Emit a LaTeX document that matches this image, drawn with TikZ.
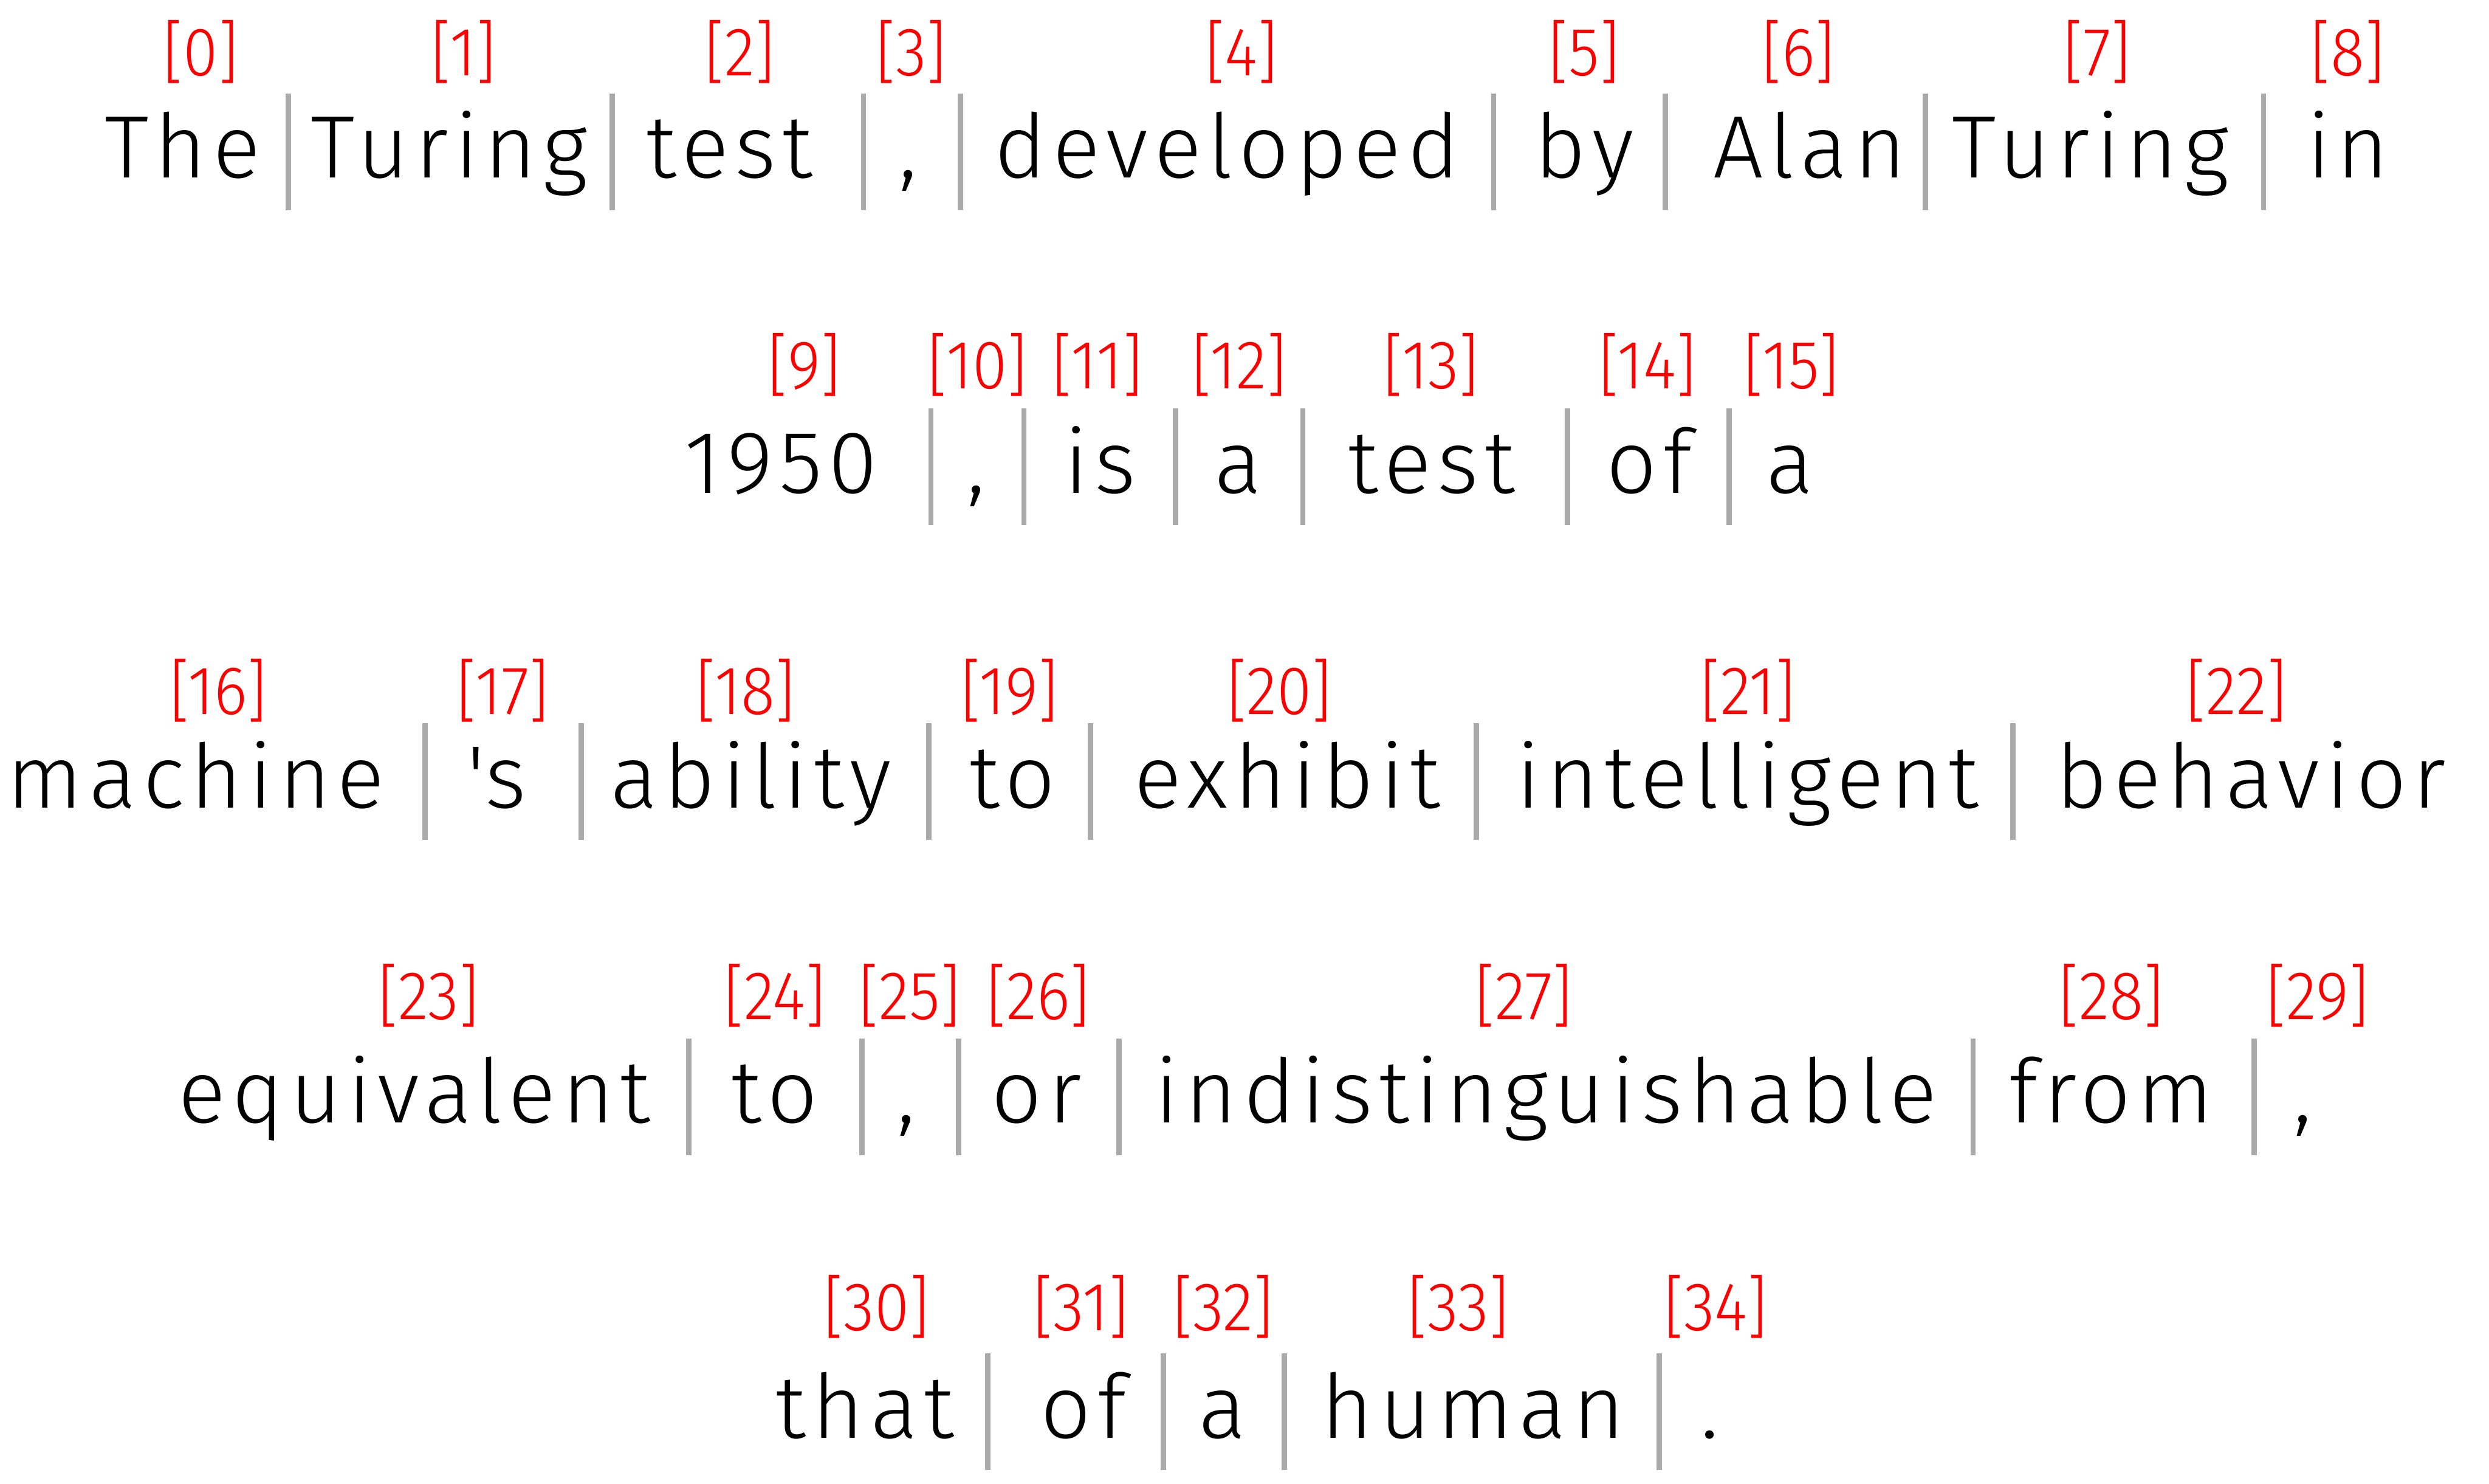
\documentclass[tikz,border=0pt]{standalone}
\usepackage{fontspec}
\setmainfont{Fira Sans}[UprightFont={* Light}, LetterSpace=7]
\newfontfamily\idxfont{Fira Sans}[UprightFont={* Light}, FakeStretch=0.92]
\usepackage{tikz}
\definecolor{idxred} {HTML}{FF0000}
\definecolor{sepgray}{HTML}{AAAAAA}
\tikzset{
  tok/.style={anchor=base, inner sep=0pt, text=black,
              font=\fontsize{15.9}{19}\selectfont},
  idx/.style={anchor=base, inner sep=0pt, text=idxred,
              font=\idxfont\fontsize{12.3}{14}\selectfont},
  sepbar/.style={draw=sepgray, line width=0.95pt},
}
\begin{document}
\begin{tikzpicture}[x=0.01cm, y=-0.01cm]
  \useasboundingbox (0,0) rectangle (1568,934.8);
  % row 1
  \foreach \n/\x/\w/\lx in {%
      0/115/The/126.5, 1/283/Turing/292, 2/459.5/test/466, 3/572/{,}/574,
      4/773/developed/782, 5/998/by/998, 6/1140/Alan/1133,
      7/1317/Turing/1321, 8/1479/in/1479}
  {
    \node[tok] (w\n) at (\x, 112) {\w};
    \node[idx] (i\n) at (\lx, 47.6) {[\n]};
  }
  \foreach \x in {181.6, 385.7, 544, 605, 941, 1049, 1213, 1426}
    \draw[sepbar] (\x, 58.8) -- (\x, 132.3);
  % row 2
  \foreach \n/\x/\w/\lx in {%
      9/492/1950/506.5, 10/615/{,}/615.7, 11/693/is/691.3, 12/780/a/780.6,
      13/902/test/901.6, 14/1039/of/1038, 15/1127.5/a/1128.6}
  {
    \node[tok] (w\n) at (\x, 310.6) {\w};
    \node[idx] (i\n) at (\lx, 244.7) {[\n]};
  }
  \foreach \x in {586.5, 645, 740.5, 820.7, 987.5, 1089.3}
    \draw[sepbar] (\x, 257.3) -- (\x, 330.8);
  % row 3
  \foreach \n/\x/\w/\lx in {%
      16/123.4/machine/137.6, 17/313/\textquotesingle s/316.8,
      18/473/ability/469.7, 19/638/to/636, 20/811/exhibit/806,
      21/1101/intelligent/1101, 22/1418/behavior/1409}
  {
    \node[tok] (w\n) at (\x, 509) {\w};
    \node[idx] (i\n) at (\lx, 450) {[\n]};
  }
  \foreach \x in {267.8, 366.2, 585, 687, 930, 1268}
    \draw[sepbar] (\x, 455.7) -- (\x, 529.2);
  % row 4
  \foreach \n/\x/\w/\lx in {%
      23/261/equivalent/270, 24/488/to/488, 25/571/{,}/573, 26/653/or/654,
      27/974/indistinguishable/960, 28/1330/from/1330, 29/1450.6/{,}/1460}
  {
    \node[tok] (w\n) at (\x, 707.4) {\w};
    \node[idx] (i\n) at (\lx, 642) {[\n]};
  }
  \foreach \x in {434, 543, 604, 705, 1243, 1420}
    \draw[sepbar] (\x, 654.1) -- (\x, 727.6);
  % row 5
  \foreach \n/\x/\w/\lx in {%
      30/545/that/552.3, 31/682.6/of/681, 32/770/a/770.5,
      33/928/human/918.6, 34/1077/./1080.8}
  {
    \node[tok] (w\n) at (\x, 905.9) {\w};
    \node[idx] (i\n) at (\lx, 838) {[\n]};
  }
  \foreach \x in {622.3, 733, 809, 1045.3}
    \draw[sepbar] (\x, 852.6) -- (\x, 926.1);
\end{tikzpicture}
\end{document}
